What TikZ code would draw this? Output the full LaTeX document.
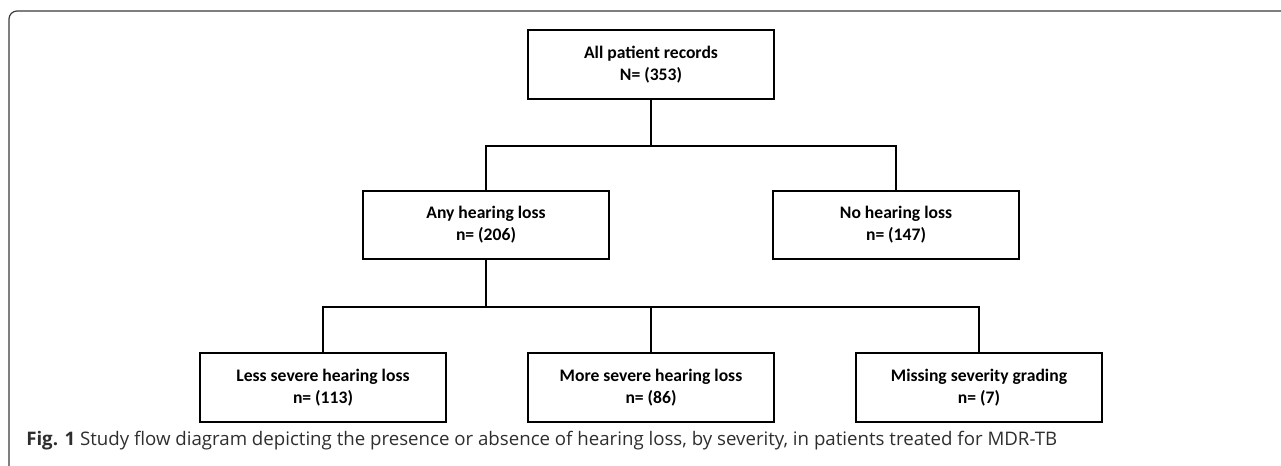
\documentclass[tikz,border=0pt]{standalone}
\usepackage{fontspec}
\usepackage{xcolor}
\usepackage{tikz}
\setmainfont{Carlito}
\newfontfamily\capfont{Open Sans}
\definecolor{framegray}{HTML}{3A3A3A}
\definecolor{capgray}{HTML}{2E2E2E}

\begin{document}
\begin{tikzpicture}[
    x=0.75pt, y=-0.75pt,
    box/.style={draw, line width=1.6pt, minimum width=185pt, minimum height=51.5pt,
        align=center, font=\fontsize{13.2}{16.5}\selectfont\bfseries},
    link/.style={line width=1.25pt}
]
\useasboundingbox (0,0) rectangle (1281,465);
\draw[framegray, line width=0.9pt, rounded corners=6pt] (9,470) -- (9,11) -- (1290,11);

\node[box] (all) at (651,64.5) {All patient records\\N= (353)};
\node[box] (any) at (486,225) {Any hearing loss\\n= (206)};
\node[box] (none) at (896,225) {No hearing loss\\n= (147)};
\node[box] (less) at (323,387.5) {Less severe hearing loss\\n= (113)};
\node[box] (more) at (651,387.5) {More severe hearing loss\\n= (86)};
\node[box] (miss) at (979,387.5) {Missing severity grading\\n= (7)};

\coordinate (fork1) at (651,146);
\coordinate (fork2) at (486,307);
\draw[link] (all.south) -- (fork1);
\draw[link] (any.north) |- (fork1) -| (none.north);
\draw[link] (any.south) -- (fork2);
\draw[link] (less.north) |- (fork2) -| (miss.north);
\draw[link] (more.north) -- (more.north |- fork2);

\node[anchor=base west, inner sep=0pt, text=capgray, font=\capfont\fontsize{14}{16}\selectfont] (cap) at (26,445)
    {\textbf{Fig. 1} Study flow diagram depicting the presence or absence of hearing loss, by severity, in patients treated for MDR-TB};
\end{tikzpicture}
\end{document}
